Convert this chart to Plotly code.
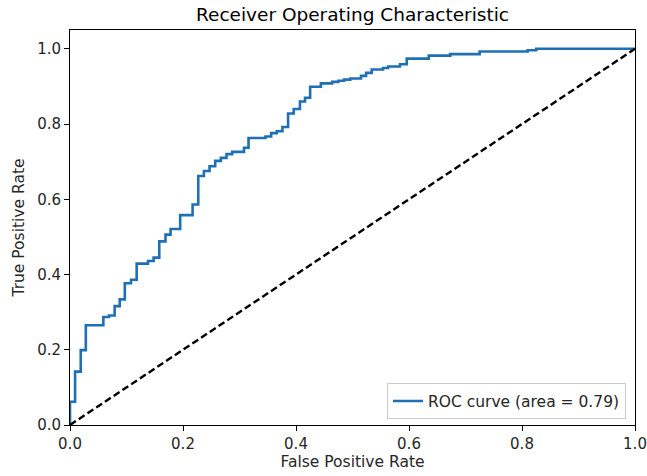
import plotly.graph_objects as go

# ROC curve vertices (false positive rate, true positive rate); each step
# moves right then up, as returned by a thresholded classifier.
fpr = [0.0, 0.0, 0.009, 0.019, 0.028, 0.059, 0.069, 0.079, 0.088, 0.097,
       0.108, 0.118, 0.138, 0.148, 0.158, 0.169, 0.178, 0.195, 0.217, 0.227,
       0.237, 0.247, 0.257, 0.267, 0.277, 0.287, 0.308, 0.316, 0.346, 0.356,
       0.366, 0.376, 0.386, 0.396, 0.407, 0.416, 0.425, 0.444, 0.464, 0.475,
       0.485, 0.496, 0.515, 0.524, 0.534, 0.554, 0.563, 0.584, 0.596, 0.635,
       0.673, 0.725, 0.810, 0.825, 1.0]
tpr = [0.0, 0.062, 0.142, 0.199, 0.265, 0.287, 0.291, 0.316, 0.334, 0.377,
       0.386, 0.429, 0.436, 0.445, 0.488, 0.506, 0.521, 0.558, 0.586, 0.662,
       0.675, 0.688, 0.702, 0.710, 0.720, 0.726, 0.737, 0.763, 0.767, 0.776,
       0.781, 0.792, 0.828, 0.840, 0.860, 0.870, 0.899, 0.908, 0.912, 0.915,
       0.918, 0.921, 0.928, 0.936, 0.945, 0.949, 0.953, 0.959, 0.974, 0.982,
       0.986, 0.993, 0.996, 1.0, 1.0]
roc_auc = 0.79

chance_x = [0.0, 1.0]
chance_y = [0.0, 1.0]

tick_vals = [0.0, 0.2, 0.4, 0.6, 0.8, 1.0]
tick_text = ["0.0", "0.2", "0.4", "0.6", "0.8", "1.0"]

FONT = "DejaVu Sans"
TXT = "#262626"

fig = go.Figure()
fig.add_trace(go.Scatter(
    x=fpr, y=tpr, mode="lines", line_shape="hv",
    line=dict(color="#1f6fb5", width=2.6),
    name=f"ROC curve (area = {roc_auc:.2f})",
))
fig.add_trace(go.Scatter(
    x=chance_x, y=chance_y, mode="lines",
    line=dict(color="black", width=2.4, dash="7px,3.5px"),
    showlegend=False,
))

axis_common = dict(
    showgrid=False, zeroline=False, automargin=False,
    showline=True, mirror=True, linecolor="black", linewidth=1,
    ticks="outside", ticklen=5, tickwidth=1, tickcolor="black",
    tickvals=tick_vals, ticktext=tick_text,
    tickfont=dict(family=FONT, size=15, color=TXT),
)

fig.update_layout(
    width=647, height=476,
    margin=dict(l=70, r=12, t=30, b=51),
    paper_bgcolor="white", plot_bgcolor="white",
    font=dict(family=FONT, color=TXT),
    title=dict(
        text="Receiver Operating Characteristic",
        x=0.5, xref="paper", xanchor="center",
        y=1 - 15 / 476, yref="container", yanchor="middle",
        font=dict(family=FONT, size=18.5, color="black"),
    ),
    xaxis=dict(
        range=[0.0, 1.0],
        title=dict(text="False Positive Rate", standoff=4,
                   font=dict(family=FONT, size=15.5, color=TXT)),
        **axis_common,
    ),
    yaxis=dict(
        range=[0.0, 1.05],
        title=dict(text="True Positive Rate", standoff=8,
                   font=dict(family=FONT, size=15.5, color=TXT)),
        **axis_common,
    ),
    legend=dict(
        x=0.984, xanchor="right", y=0.014, yanchor="bottom",
        bgcolor="rgba(255,255,255,0.8)", bordercolor="#cccccc", borderwidth=1,
        font=dict(family=FONT, size=15.5, color=TXT),
        itemwidth=30,
    ),
)

fig.write_html("out.html")
